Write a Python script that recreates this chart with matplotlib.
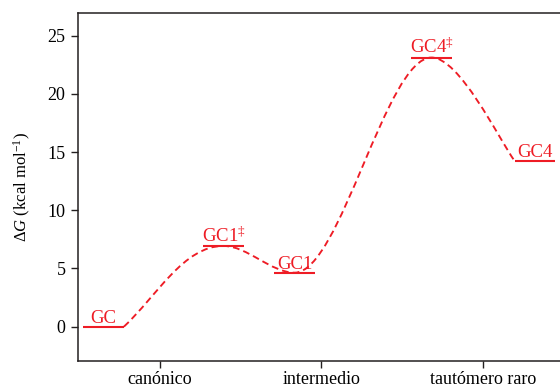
import numpy as np
import matplotlib
matplotlib.use('Agg')
import matplotlib.pyplot as plt
from matplotlib.path import Path
from matplotlib.patches import PathPatch

plt.rcParams['font.family'] = ['Liberation Serif', 'DejaVu Serif']
plt.rcParams['mathtext.fontset'] = 'custom'
plt.rcParams['mathtext.rm'] = 'Liberation Serif'
plt.rcParams['mathtext.it'] = 'Liberation Serif:italic'

# states along the reaction coordinate
states = ['GC', r'GC1$^{\ddag}$', 'GC1', r'GC4$^{\ddag}$', 'GC4']
state_x = [0.653, 1.394, 1.834, 2.681, 3.319]   # bar centres
energies = [0.0, 6.94, 4.64, 23.13, 14.25]      # kcal/mol
tick_pos = [1, 2, 3]
tick_labels = ['canónico', 'intermedio', 'tautómero raro']

red = '#ee1c25'
half = 0.125  # half bar width

fig = plt.figure(figsize=(5.6, 3.86), dpi=100)
ax = fig.add_axes([78/560, 25/386, 1 - 78/560 + 0.01, 348.5/386])

# level bars + labels
for name, x, e in zip(states, state_x, energies):
    ax.plot([x - half, x + half], [e, e], color=red, lw=1.5, solid_capstyle='butt')
    ax.annotate(name, (x, e), xytext=(0, 3), textcoords='offset points',
                ha='center', va='baseline', color=red, fontsize=13.5)

# dashed connector: right end of GC -> TS1 -> GC1 -> TS4 -> left end of GC4
p0 = (state_x[0] + half, energies[0])
pe = (state_x[4] - half, energies[4])
mids = [(state_x[i], energies[i]) for i in (1, 2, 3)]
verts = [p0]
codes = [Path.MOVETO]
# first segment, start leaves with a slope
x0, y0 = p0
x1, y1 = mids[0]
d = (x1 - x0) / 3
verts += [(x0 + d, y0 + 13.0 * d), (x1 - 1.2 * d, y1), (x1, y1)]
# flat tangents at extrema
for (xa, ya), (xb, yb) in zip(mids[:-1], mids[1:]):
    d = (xb - xa) / 3
    verts += [(xa + d, ya), (xb - d, yb), (xb, yb)]
# last segment, arriving steep
xa, ya = mids[-1]
xb, yb = pe
d = (xb - xa) / 3
verts += [(xa + d, ya), (xb - 0.6 * d, yb + 20.0 * 0.6 * d), (xb, yb)]
codes += [Path.CURVE4] * (len(verts) - 1)
ax.add_patch(PathPatch(Path(verts, codes), fill=False, edgecolor=red,
                       lw=1.35, linestyle=(0, (3.6, 2.2))))

ax.set_xlim(0.494, 3.51)
ax.set_ylim(-2.95, 27.0)
ax.set_xticks(tick_pos)
ax.set_xticklabels(tick_labels)
ax.set_yticks([0, 5, 10, 15, 20, 25])
ax.set_ylabel(r'$\Delta \mathit{G}$ (kcal mol$^{\mathregular{-1}}$)', fontsize=12, labelpad=10)

for s in ['left', 'bottom', 'top']:
    ax.spines[s].set_linewidth(1.1)
    ax.spines[s].set_color('#231f20')
ax.spines['right'].set_visible(False)
ax.tick_params(direction='out', length=5, width=1.0, color='#231f20',
               labelsize=13, pad=4)
ax.tick_params(axis='x', pad=2.5)

fig.savefig('out.png', dpi=100)
